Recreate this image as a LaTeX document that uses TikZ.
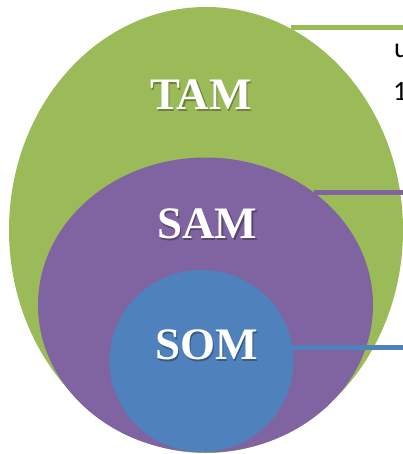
\documentclass[tikz,border=0pt]{standalone}
\usepackage{fontspec}
\setmainfont{Liberation Serif}
\newfontfamily\fragfont{Carlito}
\usetikzlibrary{shapes.geometric}
\definecolor{tamgreen}{HTML}{9BBB59}
\definecolor{sampurple}{HTML}{8064A2}
\definecolor{somblue}{HTML}{4F81BD}
\begin{document}
\begin{tikzpicture}[x=1pt,y=-1pt,
  region/.style={ellipse, inner sep=0pt, outer sep=0pt, draw=none},
  lbl/.style={font=\bfseries\fontsize{45}{45}\selectfont, text=white, inner sep=0pt},
  lblshadow/.style={font=\bfseries\fontsize{45}{45}\selectfont, text=black, text opacity=0.3, inner sep=0pt},
  lead/.style={line width=5pt},
  frag/.style={font=\fragfont\fontsize{28}{28}\selectfont, text=black, inner sep=0pt, anchor=base west}]
\useasboundingbox (0,0) rectangle (403,454);
\clip (0,0) rectangle (403,454);
% regions
\node[region, fill=tamgreen, minimum width=394pt, minimum height=446pt] (tam) at (206,230) {};
\node[region, fill=sampurple, minimum width=335pt, minimum height=295pt] (sam) at (205.5,305) {};
\node[region, fill=somblue, minimum width=184pt, minimum height=182pt] (som) at (201.5,361) {};
% leader ends
\coordinate (tamend) at (403,28);
\coordinate (samend) at (403,192);
\coordinate (somend) at (403,347);
% leader lines
\draw[lead, tamgreen] (tam.67.7 |- tamend) -- (tamend);
\draw[lead, sampurple] (sam.46 |- samend) -- (samend);
\draw[lead, somblue] (som.9.3 |- somend) -- (somend);
% labels
\node[lblshadow] (tamsh) at (202.5,96.5) {TAM};
\node[lbl] (tamlbl) at (201,95) {TAM};
\node[lblshadow] (samsh) at (208.5,225.5) {SAM};
\node[lbl] (samlbl) at (207,224) {SAM};
\node[lblshadow] (somsh) at (208,346.5) {SOM};
\node[lbl] (somlbl) at (206.5,345) {SOM};
% clipped text fragments at the right edge
\node[frag] (fraga) at (394,58) {u};
\node[frag] (fragb) at (393,101) {1};
\end{tikzpicture}
\end{document}
